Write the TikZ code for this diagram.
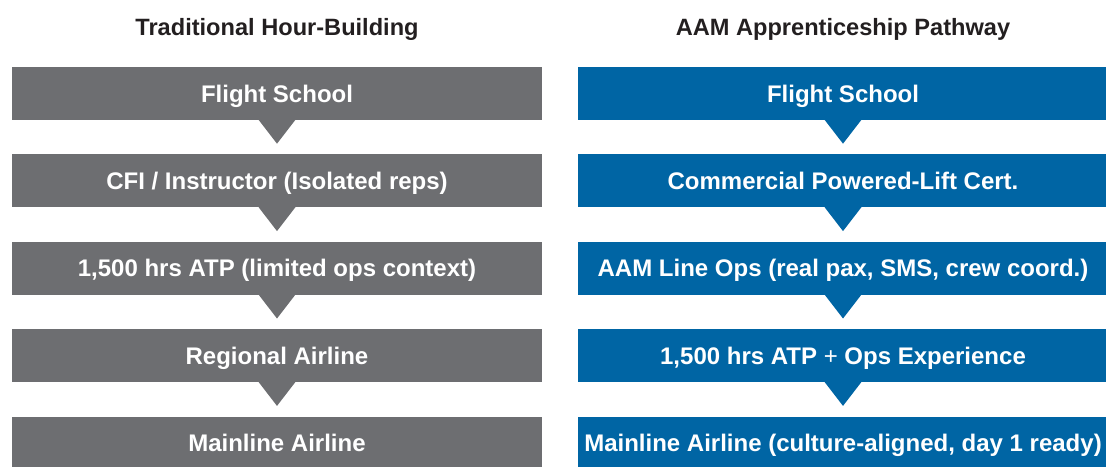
\documentclass[tikz,border=0pt]{standalone}
\usepackage{fontspec}
\setmainfont{Liberation Sans}
\usetikzlibrary{calc}
\definecolor{pathgrey}{RGB}{109,110,113}
\definecolor{pathblue}{RGB}{0,101,164}
\definecolor{headink}{RGB}{35,31,32}
% downward pointer hanging under a stage box
\newcommand\stagepointer[2]{%
  \fill[#2] ($(#1.south)+(-18.5,-0.5)$) -- ($(#1.south)+(18.5,-0.5)$)
    -- ($(#1.south)+(0,23.5)$) -- cycle;}
\begin{document}
\begin{tikzpicture}[x=1pt,y=-1pt,
  stage/.style={rectangle, minimum width=530pt, minimum height=53pt,
    inner sep=0pt, text=white, font=\bfseries\fontsize{24}{28}\selectfont,
    text height=17.2pt, text depth=0pt},
  trad/.style={stage, fill=pathgrey},
  aam/.style={stage, fill=pathblue},
  head/.style={font=\bfseries\fontsize{23.6}{28}\selectfont, text=headink,
    anchor=base, inner sep=0pt},
]
\useasboundingbox (0,0) rectangle (1106,466);

% column headings
\node[head] (lefthead) at (277,35) {Traditional Hour-Building};
\node[head] (righthead) at (843,35) {AAM Apprenticeship Pathway};

% traditional route
\node[trad] (t1) at (277,93.5)  {Flight School};
\node[trad] (t2) at (277,180.9) {CFI / Instructor (Isolated reps)};
\node[trad] (t3) at (277,268.3) {1,500 hrs ATP (limited ops context)};
\node[trad] (t4) at (277,355.7) {Regional Airline};
\node[trad] (t5) at (277,443.1) {Mainline Airline};

% apprenticeship route
\node[aam] (a1) at (843,93.5)  {Flight School};
\node[aam] (a2) at (843,180.9) {Commercial Powered-Lift Cert.};
\node[aam] (a3) at (843,268.3) {AAM Line Ops (real pax, SMS, crew coord.)};
\node[aam] (a4) at (843,355.7) {1,500 hrs ATP {\mdseries +} Ops Experience};
\node[aam] (a5) at (843,443.1) {Mainline Airline (culture-aligned, day 1 ready)};

% pointers between stages
\foreach \n in {t1,t2,t3,t4} {\stagepointer{\n}{pathgrey}}
\foreach \n in {a1,a2,a3,a4} {\stagepointer{\n}{pathblue}}
\end{tikzpicture}
\end{document}
